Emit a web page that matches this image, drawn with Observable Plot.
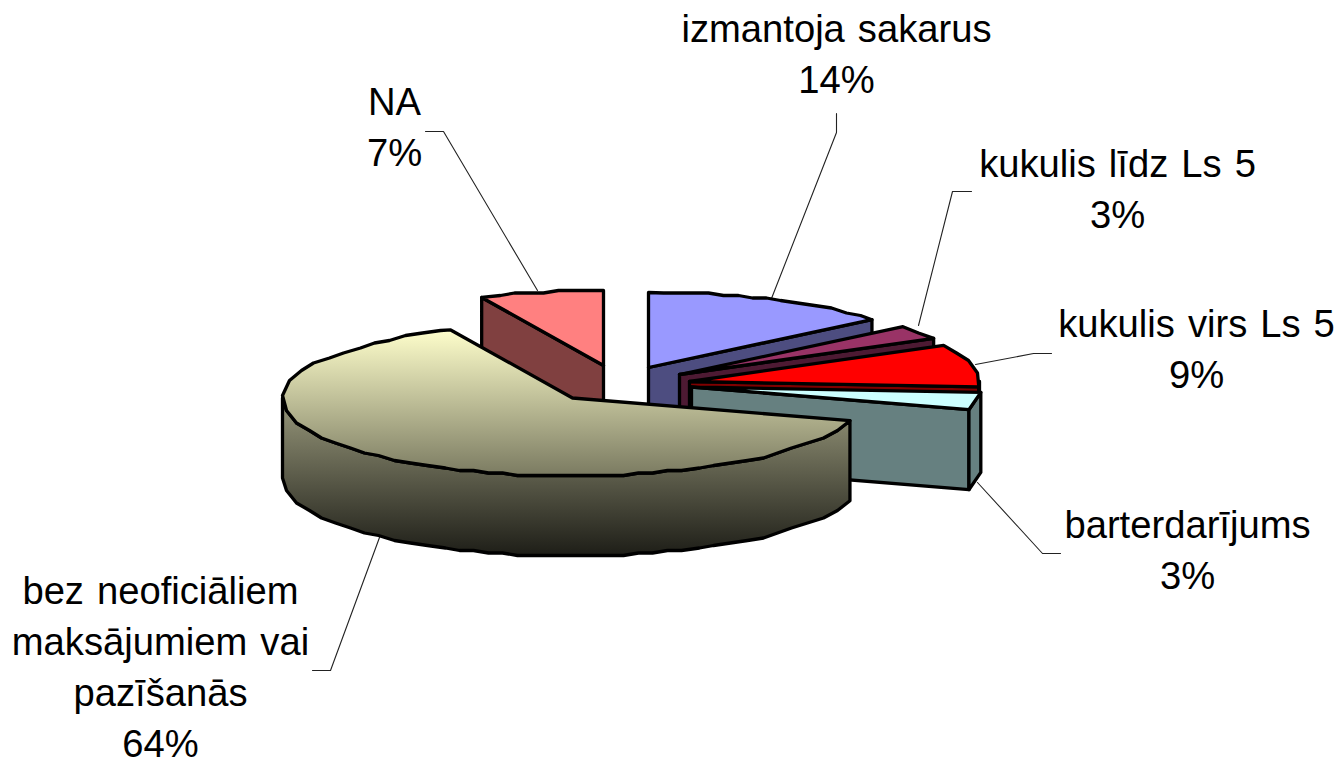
<!DOCTYPE html>
<html><head><meta charset="utf-8">
<style>html,body{margin:0;padding:0;background:#fff}svg{display:block}svg text{word-spacing:2.4px}</style>
<script src="https://cdn.jsdelivr.net/npm/d3@7"></script>
<script src="https://cdn.jsdelivr.net/npm/@observablehq/plot@0.6"></script>
</head><body><div id="chart"></div>
<script>
// Data (clockwise from the top of the pie)
const categories = ["izmantoja sakarus","kukulis līdz Ls 5","kukulis virs Ls 5","barterdarījums","bez neoficiāliem\nmaksājumiem vai\npazīšanās","NA"];
const shownPercent = [14,3,9,3,64,7];
const estimatedShare = [14,3,9.1,3.6,63.4,6.9];
const topColors = ["#9999FF","#993366","#FF0000","#CCFFFF","url(#bigTop)","#FF8080"];
const wallColors = ["#4D4D80","#4D1A33","#800000","#668080","url(#bigWall)","#804040"];

// Layout of the exploded 3-D pie
const apexX = [648,679,689,691,572,603];
const apexY = [367,374,381,386.5,397.5,365];
const rx = 290, ryBack = 75, ryFront = 78, depth = 80;
const drawOrder = [5,0,1,2,3,4];
const labelX = [836,1117,1196,1187,160,394];
const labelY = [50.5,186,346,547,664,124];
const leaders = [
  [[836,113],[836,132],[771,298]],
  [[971,191],[952,191],[918,325]],
  [[1051,353],[1033,353],[975,364]],
  [[1060,553],[1042,553],[977,482]],
  [[312,670],[330,670],[379,537]],
  [[425,131],[443,131],[537,290]]
];

const rad = Math.PI/180;
let cum = 0;
const slices = categories.map((c,i)=>{
  const s = cum; cum += estimatedShare[i]*3.6;
  return {i, a:s, b:cum, ax:apexX[i], ay:apexY[i]};
});
function pt(sl,t,dy=0){
  const c = Math.cos(t*rad);
  return [sl.ax + rx*Math.sin(t*rad), sl.ay - (c>0?ryBack:ryFront)*c + dy];
}
// the reference's outline is a slightly wobbly polyline: snap arc samples to a coarse grid
function arc(sl,a,b,dy=0){
  const first=pt(sl,a,dy), lastP=pt(sl,b,dy);
  const out=[first];
  const step=1;
  for(let t=a+step;t<b;t+=step){
    const p=pt(sl,t,dy);
    const q=[Math.round(p[0]),Math.round(p[1]/2.5)*2.5];
    const last=out[out.length-1];
    if(Math.hypot(q[0]-last[0],q[1]-last[1])>=14 && Math.hypot(q[0]-lastP[0],q[1]-lastP[1])>=8) out.push(q);
  }
  out.push(lastP);
  return out;
}
const polys=[];
for(const k of drawOrder){
  const sl=slices[k];
  const faceAt=t=>{
    const p=pt(sl,t), d=[sl.ax,sl.ay];
    return [d,p,[p[0],p[1]+depth],[d[0],d[1]+depth],d];
  };
  const visibleStart=Math.sin(sl.a*rad)<-1e-6, visibleEnd=Math.sin(sl.b*rad)>1e-6;
  if(visibleStart) polys.push({pts:faceAt(sl.a),fill:wallColors[k]});
  if(visibleEnd) polys.push({pts:faceAt(sl.b),fill:wallColors[k]});
  const f0=Math.max(sl.a,90), f1=Math.min(sl.b,270);
  if(f1>f0){
    const top=arc(sl,f0,f1), bot=arc(sl,f0,f1,depth).reverse();
    polys.push({pts:[...top,...bot,top[0]],fill:wallColors[k]});
  }
  const ar=arc(sl,sl.a,sl.b);
  polys.push({pts:[[sl.ax,sl.ay],...ar,[sl.ax,sl.ay]],fill:topColors[k]});
}

const defs=()=>{
  const ns="http://www.w3.org/2000/svg";
  const d=document.createElementNS(ns,"defs");
  d.innerHTML=`<linearGradient id="bigTop" gradientUnits="userSpaceOnUse" x1="0" x2="0" y1="328" y2="478">
    <stop offset="0" stop-color="#FFFFCC"/><stop offset="1" stop-color="#78785F"/></linearGradient>
  <linearGradient id="bigWall" gradientUnits="userSpaceOnUse" x1="0" x2="0" y1="410" y2="557">
    <stop offset="0" stop-color="#8F8F74"/><stop offset="1" stop-color="#1C1C16"/></linearGradient>`;
  const g=document.createElementNS(ns,"g");g.appendChild(d);return g;
};

const labels=categories.map((c,i)=>({t:c+"\n"+shownPercent[i]+"%",x:labelX[i],y:labelY[i]}));

const chart=Plot.plot({
  width:1343,height:760,margin:0,
  style:{background:"#fff",fontFamily:"'Liberation Sans',Arial,sans-serif"},
  x:{domain:[0,1343],range:[0,1343],axis:null},
  y:{domain:[0,760],range:[0,760],axis:null},
  marks:[
    defs,
    ...leaders.map(l=>Plot.line(l,{x:d=>d[0],y:d=>d[1],stroke:"#222",strokeWidth:1.1})),
    ...polys.map(p=>Plot.line(p.pts,{x:d=>d[0],y:d=>d[1],fill:p.fill,stroke:"#000",strokeWidth:3.3,strokeLinejoin:"round"})),
    Plot.text(labels,{x:"x",y:"y",text:"t",fontSize:38.2,lineHeight:1.335,fill:"#000",textAnchor:"middle"})
  ]
});
document.getElementById("chart").appendChild(chart);
</script></body></html>
